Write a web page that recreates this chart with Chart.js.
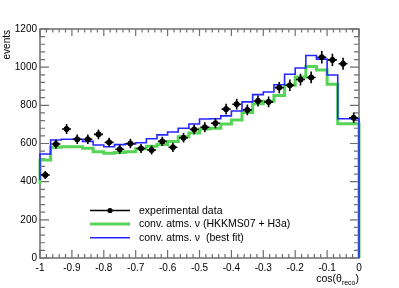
<!DOCTYPE html>
<html>
<head>
<meta charset="utf-8">
<script src="https://cdn.jsdelivr.net/npm/chart.js@4.4.1/dist/chart.umd.min.js"></script>
<style>
  html, body { margin: 0; padding: 0; background: #fff; }
</style>
</head>
<body>
<canvas id="myChart" width="399" height="288"></canvas>
<script>
//Variables

const xMin = -1;
const xMax = 0;
const nBins = 30;

// events per bin of cos(theta_reco)
const datos = [435, 597, 676, 622, 622, 648, 606, 570, 600, 574, 566, 611, 580, 630, 674,
               685, 706, 780, 806, 776, 823, 818, 893, 905, 935, 946, 1052, 1038, 1018, 735];
const hkkms = [388, 514, 580, 583, 583, 575, 557, 549, 553, 557, 572, 585, 595, 610, 635,
               655, 676, 680, 702, 723, 762, 808, 822, 852, 905, 948, 1003, 985, 910, 704];
const mejorAjuste = [409, 545, 618, 622, 622, 611, 592, 583, 594, 598, 604, 625, 645, 660, 680,
                     702, 728, 730, 745, 770, 818, 856, 870, 908, 963, 996, 1061, 1042, 959, 730];

const xTickValues = [-1, -0.9, -0.8, -0.7, -0.6, -0.5, -0.4, -0.3, -0.2, -0.1, 0];
const xTickLabels = ['-1', '-0.9', '-0.8', '-0.7', '-0.6', '-0.5', '-0.4', '-0.3', '-0.2', '-0.1', '0'];
const yTickValues = [0, 200, 400, 600, 800, 1000, 1200];
const yTickLabels = ['0', '200', '400', '600', '800', '1000', '1200'];

const leyenda = ['experimental data', 'conv. atms. \u03bd (HKKMS07 + H3a)', 'conv. atms. \u03bd  (best fit)'];

const colorVerde = '#55d455';
const colorAzul = '#2626ff';
const colorEje = '#6e6e6e';
const fuente = '"Liberation Sans", Arial, sans-serif';

//Funciones

function anchoBin() {
  return (xMax - xMin) / nBins;
}

// points for a stepped histogram outline, dropping to 0 at the right edge
function histo(valores) {
  let puntos = [];
  for (let i = 0; i < valores.length; i++) {
    puntos.push({ x: xMin + i * anchoBin(), y: valores[i] });
  }
  puntos.push({ x: xMax, y: valores[valores.length - 1] });
  puntos.push({ x: xMax, y: 0 });
  return puntos;
}

function puntosDatos() {
  return datos.map((v, i) => ({ x: xMin + (i + 0.5) * anchoBin(), y: v }));
}

const marco = {
  id: 'marco',
  beforeDatasetsDraw(chart) {
    const ctx = chart.ctx;
    const a = chart.chartArea;
    const sx = chart.scales.x;
    const sy = chart.scales.y;
    ctx.save();
    ctx.strokeStyle = colorEje;
    ctx.lineWidth = 1.5;
    ctx.strokeRect(a.left, a.top, a.right - a.left, a.bottom - a.top);
    ctx.lineWidth = 1.2;
    ctx.beginPath();
    for (let k = 0; k <= 50; k++) {
      const px = sx.getPixelForValue(xMin + k * 0.02);
      const largo = k % 5 === 0 ? 8 : 4;
      ctx.moveTo(px, a.bottom);
      ctx.lineTo(px, a.bottom - largo);
      ctx.moveTo(px, a.top);
      ctx.lineTo(px, a.top + (k % 5 === 0 ? 7 : 3.5));
    }
    for (let k = 0; k <= 30; k++) {
      const py = sy.getPixelForValue(k * 40);
      const largo = k % 5 === 0 ? 9 : 5;
      ctx.moveTo(a.left, py);
      ctx.lineTo(a.left + largo, py);
      ctx.moveTo(a.right, py);
      ctx.lineTo(a.right - largo, py);
    }
    ctx.stroke();
    ctx.restore();
  },
  beforeDatasetDraw(chart, args) {
    if (args.index !== 0) return;
    // error bars for the data
    const ctx = chart.ctx;
    const sx = chart.scales.x;
    const sy = chart.scales.y;
    ctx.save();
    ctx.strokeStyle = '#000';
    ctx.lineWidth = 1.6;
    ctx.beginPath();
    datos.forEach((v, i) => {
      const xc = xMin + (i + 0.5) * anchoBin();
      const err = Math.sqrt(v);
      ctx.moveTo(sx.getPixelForValue(xc - anchoBin() * 0.42), sy.getPixelForValue(v));
      ctx.lineTo(sx.getPixelForValue(xc + anchoBin() * 0.42), sy.getPixelForValue(v));
      ctx.moveTo(sx.getPixelForValue(xc), sy.getPixelForValue(v - err));
      ctx.lineTo(sx.getPixelForValue(xc), sy.getPixelForValue(v + err));
    });
    ctx.stroke();
    ctx.restore();
  },
  afterDatasetsDraw(chart) {
    const ctx = chart.ctx;
    const a = chart.chartArea;
    ctx.save();
    ctx.fillStyle = '#000';

    // legend
    const filas = [210.5, 224, 237.7];
    const colores = ['#000', colorVerde, colorAzul];
    const grosores = [1.4, 3, 1.6];
    ctx.font = '10.5px ' + fuente;
    ctx.textBaseline = 'middle';
    ctx.textAlign = 'left';
    filas.forEach((y, i) => {
      ctx.strokeStyle = colores[i];
      ctx.lineWidth = grosores[i];
      ctx.beginPath();
      ctx.moveTo(90, y);
      ctx.lineTo(130, y);
      ctx.stroke();
      if (i === 0) {
        ctx.beginPath();
        ctx.arc(110, y, 2.6, 0, Math.PI * 2);
        ctx.fill();
      }
      ctx.fillText(leyenda[i], 139, y + 0.5);
    });

    // x title: cos(theta_reco)
    ctx.textBaseline = 'alphabetic';
    ctx.font = '10.5px ' + fuente;
    const t1 = 'cos(\u03b8';
    const t3 = ')';
    const w1 = ctx.measureText(t1).width;
    const w3 = ctx.measureText(t3).width;
    ctx.font = '7px ' + fuente;
    const w2 = ctx.measureText('reco').width;
    let x0 = a.right - (w1 + w2 + w3);
    ctx.font = '10.5px ' + fuente;
    ctx.fillText(t1, x0, 282);
    ctx.fillText(t3, x0 + w1 + w2, 282);
    ctx.font = '7px ' + fuente;
    ctx.fillText('reco', x0 + w1, 284.5);

    // y title
    ctx.font = '10px ' + fuente;
    ctx.translate(7, 30);
    ctx.rotate(-Math.PI / 2);
    ctx.textAlign = 'right';
    ctx.textBaseline = 'middle';
    ctx.fillText('events', 0, 0);
    ctx.restore();
  }
};

//Grafico

const config = {
  type: 'line',
  data: {
    datasets: [
      {
        label: leyenda[0],
        type: 'scatter',
        data: puntosDatos(),
        backgroundColor: '#000',
        borderColor: '#000',
        pointRadius: 2.6,
        pointHoverRadius: 2.6,
        showLine: false,
        order: 1
      },
      {
        label: leyenda[2],
        data: histo(mejorAjuste),
        borderColor: colorAzul,
        borderWidth: 1.6,
        pointRadius: 0,
        stepped: 'after',
        fill: false,
        clip: false,
        order: 2
      },
      {
        label: leyenda[1],
        data: histo(hkkms),
        borderColor: colorVerde,
        borderWidth: 3,
        pointRadius: 0,
        stepped: 'after',
        fill: false,
        clip: false,
        order: 3
      }
    ]
  },
  options: {
    responsive: false,
    animation: false,
    events: [],
    layout: { padding: { left: 0, right: 40, top: 29, bottom: 0 } },
    plugins: {
      legend: { display: false },
      tooltip: { enabled: false },
      title: { display: false }
    },
    scales: {
      x: {
        type: 'linear',
        min: xMin,
        max: xMax,
        grid: { display: false, drawTicks: false },
        border: { display: false },
        afterBuildTicks: s => { s.ticks = xTickValues.map(v => ({ value: v })); },
        afterFit: s => { s.height = 30; },
        ticks: {
          padding: 4,
          autoSkip: false,
          maxRotation: 0,
          color: '#000',
          font: { family: fuente, size: 10 },
          callback: (v, i) => xTickLabels[i]
        }
      },
      y: {
        type: 'linear',
        min: 0,
        max: 1200,
        grid: { display: false, drawTicks: false },
        border: { display: false },
        afterBuildTicks: s => { s.ticks = yTickValues.map(v => ({ value: v })); },
        afterFit: s => { s.width = 40; },
        ticks: {
          padding: 3,
          autoSkip: false,
          color: '#000',
          font: { family: fuente, size: 10 },
          callback: (v, i) => yTickLabels[i]
        }
      }
    }
  },
  plugins: [marco]
};

window.myChart = new Chart(document.getElementById('myChart'), config);
</script>
</body>
</html>
